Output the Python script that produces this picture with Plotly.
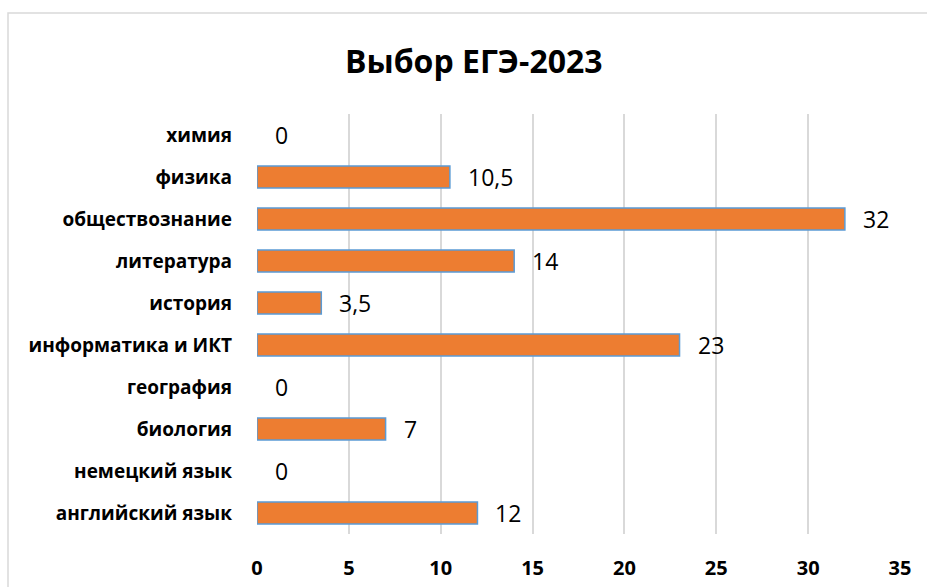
import plotly.graph_objects as go

categories = ["английский язык", "немецкий язык", "биология", "география",
              "информатика и ИКТ", "история", "литература", "обществознание",
              "физика", "химия"]
values = [12, 0, 7, 0, 23, 3.5, 14, 32, 10.5, 0]
x_ticks = [0, 5, 10, 15, 20, 25, 30, 35]
title_text = "Выбор ЕГЭ-2023"
SP = "\u00a0" * 4 + "\u200a"
top_fragment_1 = SP.join(["(32%),", "информатика", "и", "ИКТ", "(23%),"])
top_fragment_2 = SP.join(["литература", "(14%)"])

def fmt(v):
    return ("%g" % v).replace(".", ",")

W, H = 927, 587
L, R, T, B = 257, 27, 114, 53
pw, ph = W - L - R, H - T - B

def px_x(x):
    return (x - L) / pw

def px_y(y):
    return (H - B - y) / ph

fig = go.Figure()
fig.add_trace(go.Bar(
    y=categories, x=values, orientation="h",
    marker=dict(color="#ED7D31",
                line=dict(color="#5B9BD5", width=[0 if v == 0 else 1.5 for v in values])),
    width=0.52, hoverinfo="skip",
))

annotations = []
for c, v in zip(categories, values):
    annotations.append(dict(x=v, y=c, xref="x", yref="y", text=fmt(v),
                            showarrow=False, xanchor="left", yanchor="middle",
                            xshift=16,
                            font=dict(family="Open Sans", size=23, color="#000000")))

annotations.append(dict(x=px_x(474), y=px_y(60), xref="paper", yref="paper",
                        text="<b>" + title_text + "</b>", showarrow=False,
                        xanchor="center", yanchor="middle",
                        font=dict(family="Open Sans", size=32, color="#000000")))

for txt, x0 in [(top_fragment_1, 99), (top_fragment_2, 582)]:
    annotations.append(dict(x=px_x(x0), y=px_y(1), xref="paper", yref="paper",
                            text=txt, showarrow=False,
                            xanchor="left", yanchor="bottom",
                            font=dict(family="Liberation Serif", size=24, color="#000000")))

fig.update_layout(
    width=W, height=H,
    margin=dict(l=L, r=R, t=T, b=B, pad=0, autoexpand=False),
    paper_bgcolor="#ffffff", plot_bgcolor="#ffffff",
    showlegend=False,
    annotations=annotations,
    shapes=[dict(type="rect", xref="paper", yref="paper",
                 x0=px_x(8), x1=px_x(W + 20),
                 y0=px_y(H + 20), y1=px_y(13),
                 line=dict(color="#D9D9D9", width=1.5), fillcolor="rgba(0,0,0,0)",
                 layer="below")],
    xaxis=dict(range=[0, 35], tickvals=x_ticks,
               ticktext=["<b>%d</b>" % t for t in x_ticks],
               showgrid=True, gridcolor="#D9D9D9", gridwidth=1.5,
               zeroline=False, showline=False, ticks="",
               ticklabelstandoff=20, automargin=False,
               tickfont=dict(family="Open Sans", size=20, color="#000000"),
               fixedrange=True),
    yaxis=dict(categoryorder="array", categoryarray=categories,
               ticktext=["<b>%s</b>" % c for c in categories], tickvals=categories,
               showgrid=False, zeroline=False, showline=False, ticks="",
               ticklabelstandoff=24, automargin=False,
               tickfont=dict(family="Open Sans", size=19, color="#000000"),
               fixedrange=True),
)

fig.write_html("out.html", config={"displayModeBar": False},
               post_script="document.body.style.margin='0';document.body.style.overflow='hidden';")
